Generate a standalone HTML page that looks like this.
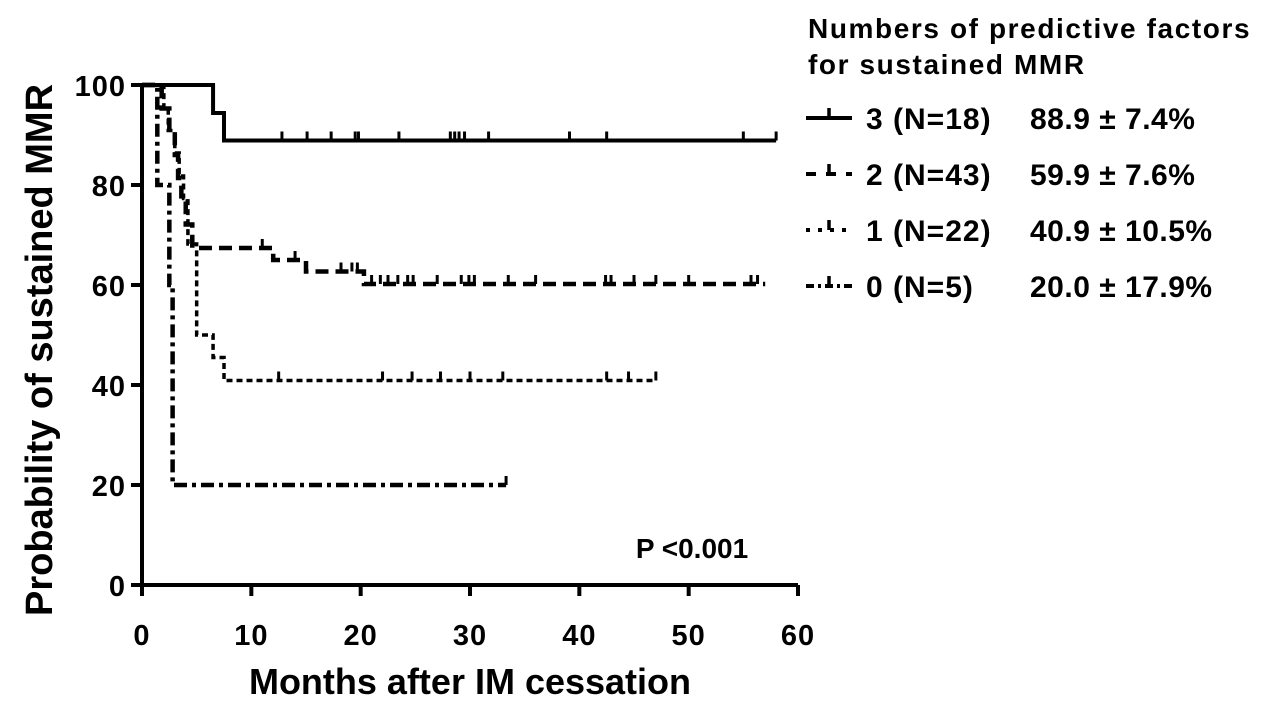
<!DOCTYPE html>
<html><head><meta charset="utf-8"><style>
body{margin:0;background:#fff;width:1280px;height:719px;overflow:hidden}
svg text{font-family:"Liberation Sans",Arial,sans-serif;font-weight:bold;fill:#000}
</style></head><body>
<svg id="chart" width="1280" height="719" viewBox="0 0 1280 719"></svg>
<script>
const xTicks=[0,10,20,30,40,50,60];
const yTicks=[0,20,40,60,80,100];
// step times and survival values per group
const s3Times=[0,6.5,7.5];
const s3Vals=[100,94.4,88.9];
const s3End=58;
const s3Cens=[12.8,15.1,17.3,19.5,19.8,23.5,28.2,28.6,29,29.5,31.7,39.1,42.5,55,58];
const s2Times=[0,1.8,2.5,3,3.3,3.6,4,4.6,12,15,20.3];
const s2Vals=[100,95.3,90.7,86,81.4,76.7,72.1,67.4,65,62.7,60.2];
const s2End=57;
const s2Cens=[11,14,18.2,19.2,19.7,21,21.8,22.5,23.4,24.3,24.8,27,29.2,29.9,30.4,33.5,36,42.4,42.9,45,47,50,55.7,56.3];
const s1Times=[0,2,2.4,3,3.4,3.8,4.2,5,6.5,7.5];
const s1Vals=[100,95.5,90.9,86.4,81.8,77.3,68.2,50,45.5,40.9];
const s1End=47;
const s1Cens=[12.5,22,24.7,27.3,30,33,42.5,44.5,47];
const s0Times=[0,1.4,2.5];
const s0Vals=[100,80,60];
const s0Final=[2.8,20];
const s0End=33.3;
const s0Cens=[33.3];

const X0=142,XS=(798-142)/60,Y0=585,YS=5;
const sx=v=>X0+v*XS, sy=v=>Y0-v*YS;
const svg=document.getElementById('chart');
const NS='http://www.w3.org/2000/svg';
function mk(tag,attrs,parent){const e=document.createElementNS(NS,tag);for(const k in attrs)e.setAttribute(k,attrs[k]);(parent||svg).appendChild(e);return e;}

let ax=mk('path',{d:`M${sx(0)} ${sy(100)-2}V${sy(0)}H${sx(60)}`,stroke:'#000','stroke-width':4,fill:'none'});


xTicks.forEach(t=>{
  let l=mk('line',{x1:sx(t),x2:sx(t),y1:sy(0),y2:sy(0)+11,stroke:'#000','stroke-width':4});
  
  
  let tx=mk('text',{x:sx(t),y:645,'font-size':29,'text-anchor':'middle','letter-spacing':1});tx.textContent=t;
  
  
});
yTicks.forEach(t=>{
  let l=mk('line',{x1:sx(0)-11,x2:sx(0),y1:sy(t),y2:sy(t),stroke:'#000','stroke-width':4});
  
  
  let tx=mk('text',{x:126,y:sy(t)+11,'font-size':29,'text-anchor':'end','letter-spacing':1});tx.textContent=t;
  
  
});
let xt=mk('text',{x:470,y:694,'font-size':36,'text-anchor':'middle'});xt.textContent='Months after IM cessation';


let yt=mk('text',{x:0,y:0,'font-size':38,'text-anchor':'middle',transform:'translate(52,350) rotate(-90)'});yt.textContent='Probability of sustained MMR';


let pv=mk('text',{x:692,y:558,'font-size':28,'text-anchor':'middle'});pv.textContent='P <0.001';



function stepPath(times,vals,end){
  let d=`M${sx(times[0])} ${sy(vals[0])}`;
  for(let i=1;i<times.length;i++){d+=`H${sx(times[i])}V${sy(vals[i])}`;}
  d+=`H${sx(end)}`;return d;
}
function survAt(times,vals,t){let v=vals[0];for(let i=0;i<times.length;i++)if(times[i]<=t)v=vals[i];return v;}
function drawSeries(name,times,vals,end,cens,dash,w){
  let p=mk('path',{d:stepPath(times,vals,end),stroke:'#000','stroke-width':w,fill:'none','stroke-dasharray':dash});
  
  
  cens.forEach(c=>{
    const v=survAt(times,vals,c);
    let l=mk('line',{x1:sx(c),x2:sx(c),y1:sy(v),y2:sy(v)-9,stroke:'#000','stroke-width':3});
    
    
  });
}
drawSeries('curve-3',s3Times,s3Vals,s3End,s3Cens,'none',4);
drawSeries('curve-2',s2Times,s2Vals,s2End,s2Cens,'13 7',4.5);
drawSeries('curve-1',s1Times,s1Vals,s1End,s1Cens,'6 4',3.5);
drawSeries('curve-0',s0Times.concat([s0Final[0]]),s0Vals.concat([s0Final[1]]),s0End,s0Cens,'13 5 4 5',4.5);

let lh=mk('text',{x:808,y:38,'font-size':28,'letter-spacing':1.6});lh.textContent='Numbers of predictive factors';


let lh2=mk('text',{x:808,y:74,'font-size':28,'letter-spacing':1.6});lh2.textContent='for sustained MMR';


const legLabels=['3 (N=18)','2 (N=43)','1 (N=22)','0 (N=5)'];
const legVals=['88.9 \u00b1 7.4%','59.9 \u00b1 7.6%','40.9 \u00b1 10.5%','20.0 \u00b1 17.9%'];
const legDash=['none','10 10','4 8','8 4 3 4'];
legLabels.forEach((lab,i)=>{
  const y=118+i*56;
  let l=mk('line',{x1:806,x2:852,y1:y,y2:y,stroke:'#000','stroke-width':4,'stroke-dasharray':legDash[i]});
  
  
  mk('line',{x1:829,x2:829,y1:y,y2:y-10,stroke:'#000','stroke-width':3.5});
  let t=mk('text',{x:866,y:y+11,'font-size':30,'letter-spacing':1});t.textContent=lab;
  
  
  let v=mk('text',{x:1030,y:y+11,'font-size':30,'letter-spacing':0.5});v.textContent=legVals[i];
  
  
});
</script>
</body></html>
